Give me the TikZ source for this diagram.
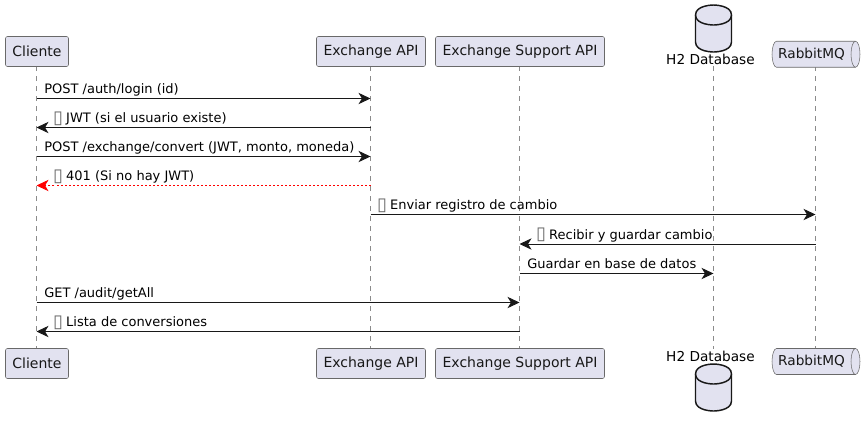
\documentclass[tikz,border=0pt]{standalone}
\usepackage{fontspec}
\setmainfont{DejaVu Sans}
\usetikzlibrary{arrows.meta}
\definecolor{partfill}{HTML}{E2E2F0}
\definecolor{partline}{HTML}{181818}
\tikzset{
    participant/.style={draw=partline!65, fill=partfill, rounded corners=1.5pt, line width=0.4pt,
        minimum height=22.5pt, inner sep=0pt, font=\fontsize{10.5pt}{12pt}\selectfont, text=partline},
    queuetext/.style={inner sep=0pt, font=\fontsize{10.25pt}{12pt}\selectfont, text=partline},
    dblabel/.style={font=\fontsize{10.25pt}{12pt}\selectfont, text=black, inner sep=0pt},
    lifeline/.style={draw=partline!50, line width=0.4pt, dash pattern=on 3.75pt off 3.75pt},
    msg/.style={draw=partline, line width=0.75pt, -{Stealth[length=9pt,width=8.5pt,inset=2.6pt,fill=partline]}},
    msglabel/.style={anchor=base west, inner sep=0pt, font=\fontsize{9.75pt}{12pt}\selectfont, text=black},
    dbicon/.pic={
        \draw[partline, fill=partfill, line width=1.1pt]
            (-18,13.5) .. controls (-18,23.5) and (0,23.5) .. (0,23.5)
            .. controls (0,23.5) and (18,23.5) .. (18,13.5) -- (18,-13.5)
            .. controls (18,-23.5) and (0,-23.5) .. (0,-23.5)
            .. controls (0,-23.5) and (-18,-23.5) .. (-18,-13.5) -- cycle;
        \draw[partline, line width=1.1pt]
            (-18,13.5) .. controls (-18,3.5) and (0,3.5) .. (0,3.5)
            .. controls (0,3.5) and (18,3.5) .. (18,13.5);
    },
    queueicon/.pic={
        \draw[partline!65, fill=partfill, line width=0.4pt]
            (-39.5,13) -- (39.5,13) arc[start angle=90, end angle=-90, x radius=4.5, y radius=13]
            -- (-39.5,-13) arc[start angle=270, end angle=90, x radius=4.5, y radius=13] -- cycle;
        \draw[partline!65, line width=0.4pt]
            (39.5,13) arc[start angle=90, end angle=270, x radius=4.5, y radius=13];
    },
}
\newcommand{\tofu}{\makebox[0.6em][l]{\fontsize{13.5pt}{12pt}\selectfont\color{partline!65}\raisebox{-0.4pt}{\hspace{-0.8pt}▯}}}
\begin{document}
\begin{tikzpicture}[x=0.75pt,y=0.75pt]
    \useasboundingbox (0,0) rectangle (866,-426);

    % Lifelines first, so the boxes sit over them
    \coordinate (clienteTop) at (36.5,-66);
    \coordinate (clienteBot) at (36.5,-349);
    \coordinate (apiTop) at (370.5,-66);
    \coordinate (apiBot) at (370.5,-349);
    \coordinate (supportTop) at (519.5,-66);
    \coordinate (supportBot) at (519.5,-349);
    \coordinate (dbTop) at (713.5,-66);
    \coordinate (dbBot) at (713.5,-349);
    \coordinate (mqTop) at (815.5,-66);
    \coordinate (mqBot) at (815.5,-349);
    \foreach \who in {cliente,api,support,db,mq}
        \draw[lifeline] (\who Top) -- (\who Bot);

    % Participants, top
    \node[participant, minimum width=47.25pt] (clienteA) at (37,-51.5) {Cliente};
    \node[participant, minimum width=81.75pt] (apiA) at (371,-51.5) {Exchange API};
    \node[participant, minimum width=126.75pt] (supportA) at (520,-51.5) {Exchange Support API};
    \pic (dbA) at (713.5,-28.5) {dbicon};
    \node[dblabel] (dbTextA) at (710.5,-59) {H2 Database};
    \pic (mqA) at (816,-54.25) {queueicon};
    \node[queuetext] (mqTextA) at (811.5,-54) {RabbitMQ};

    % Participants, bottom
    \node[participant, minimum width=47.25pt] (clienteB) at (37,-363.5) {Cliente};
    \node[participant, minimum width=81.75pt] (apiB) at (371,-363.5) {Exchange API};
    \node[participant, minimum width=126.75pt] (supportB) at (520,-363.5) {Exchange Support API};
    \node[dblabel] (dbTextB) at (710.5,-356) {H2 Database};
    \pic (dbB) at (713.5,-387.5) {dbicon};
    \pic (mqB) at (816,-361.5) {queueicon};
    \node[queuetext] (mqTextB) at (811.5,-361) {RabbitMQ};

    % Rows
    \coordinate (r1) at (0,-98.5);
    \coordinate (r2) at (0,-127.5);
    \coordinate (r3) at (0,-156.5);
    \coordinate (r4) at (0,-185.5);
    \coordinate (r5) at (0,-214.5);
    \coordinate (r6) at (0,-244);
    \coordinate (r7) at (0,-273.5);
    \coordinate (r8) at (0,-302.5);
    \coordinate (r9) at (0,-331.5);

    % Messages
    \draw[msg] (clienteTop |- r1) -- (apiTop |- r1);
    \draw[msg] (apiTop |- r2) -- (clienteTop |- r2);
    \draw[msg] (clienteTop |- r3) -- (apiTop |- r3);
    \draw[msg, draw=red, dash pattern=on 1.5pt off 1.5pt, line width=0.6pt,
        -{Stealth[length=9pt,width=8.5pt,inset=2.6pt,fill=red,sep=0pt]}] (apiTop |- r4) -- (clienteTop |- r4);
    \draw[msg] (apiTop |- r5) -- (mqTop |- r5);
    \draw[msg] (mqTop |- r6) -- (supportTop |- r6);
    \draw[msg] (supportTop |- r7) -- (dbTop |- r7);
    \draw[msg] (clienteTop |- r8) -- (supportTop |- r8);
    \draw[msg] (supportTop |- r9) -- (clienteTop |- r9);

    % Labels
    \node[msglabel] (lbl1) at (44,-93.5) {POST /auth/login (id)};
    \node[msglabel] (lbl2) at (54,-122.5) {\tofu{} JWT (si el usuario existe)};
    \node[msglabel] (lbl3) at (44,-151.5) {POST /exchange/convert (JWT, monto, moneda)};
    \node[msglabel] (lbl4) at (54,-180.5) {\tofu{} 401 (Si no hay JWT)};
    \node[msglabel] (lbl5) at (378,-209.5) {\tofu{} Enviar registro de cambio};
    \node[msglabel] (lbl6) at (537,-239) {\tofu{} Recibir y guardar cambio};
    \node[msglabel] (lbl7) at (527,-268.5) {Guardar en base de datos};
    \node[msglabel] (lbl8) at (44,-297.5) {GET /audit/getAll};
    \node[msglabel] (lbl9) at (54,-326.5) {\tofu{} Lista de conversiones};
\end{tikzpicture}
\end{document}
